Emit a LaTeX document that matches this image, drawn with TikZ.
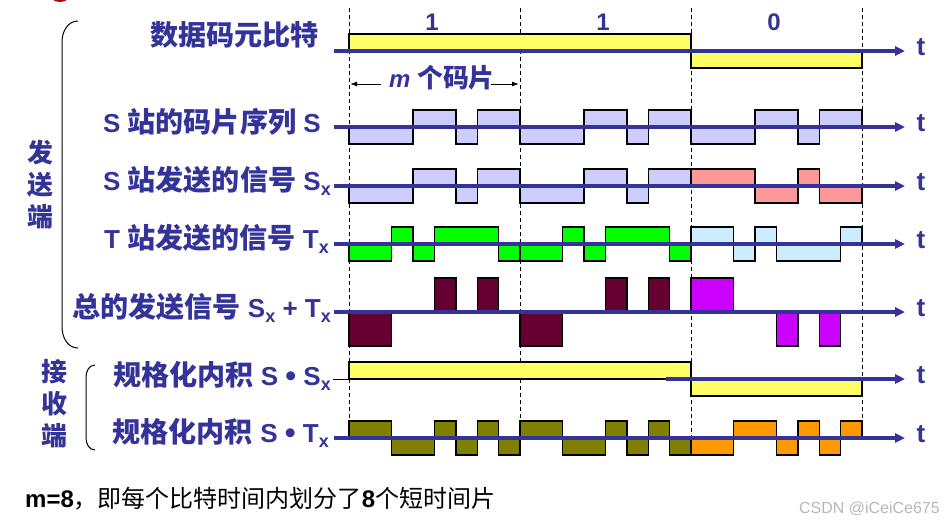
\documentclass[tikz,border=0pt]{standalone}
\usepackage{fontspec}
\setmainfont{Liberation Sans}
\newfontfamily\cjk{Noto Sans CJK SC}[Scale=1.08]
\newfontfamily\cjknote{Noto Sans CJK SC}
\usepackage{xcolor}
\usetikzlibrary{arrows.meta,positioning}

\definecolor{ink}{HTML}{333399}
\definecolor{cyel}{HTML}{FFFF66}
\definecolor{clav}{HTML}{CCCCFF}
\definecolor{cpink}{HTML}{FF9999}
\definecolor{cgreen}{HTML}{00FF00}
\definecolor{cice}{HTML}{CCECFF}
\definecolor{cwine}{HTML}{660033}
\definecolor{cmag}{HTML}{CC00FF}
\definecolor{colive}{HTML}{808000}
\definecolor{corange}{HTML}{FF9900}

\newcommand{\subx}{\raisebox{-5pt}{\fontsize{18}{18}\selectfont x}}
\newcommand{\dotop}{\raisebox{-1pt}{\fontsize{31}{31}\selectfont •}}

\begin{document}
\begin{tikzpicture}[
        x=1pt, y=-1pt,
        every node/.style={inner sep=0pt},
        chiprow/.style={shift={(349,#1)}, x=21.375pt, y=17pt},
        chipbox/.style={draw=black, line width=1.4pt},
        guide/.style ={draw=black, line width=0.9pt, dash pattern=on 4pt off 3pt},
        axis/.style  ={draw=ink, line width=3.2pt,
                       -{Triangle[length=10pt,width=9pt]}},
        tlbl/.style  ={anchor=base west, xshift=10pt, yshift=-4pt, text=ink,
                       font=\fontsize{26}{28}\selectfont\bfseries},
        lbl/.style   ={anchor=base east, text=ink,
                       font=\fontsize{26}{30}\selectfont\bfseries},
        side/.style  ={align=center, text=ink,
                       font=\fontsize{24}{32}\selectfont\bfseries\cjk},
        bitval/.style={anchor=base, text=ink,
                       font=\fontsize{24}{28}\selectfont\bfseries},
        dim/.style   ={draw=black, line width=1pt,
                       -{Latex[length=7pt,width=5pt]}},
        brace/.style ={draw=black, line width=1pt},
    ]
        \useasboundingbox (0,0) rectangle (944,523);

        % ===================== Rand oben links =====================
        \fill[red!70!black] (60,-7) ellipse (11pt and 9pt);

        % ===================== Bitgrenzen =====================
        \foreach \k in {0,1,2,3}
            \draw[guide] ({349+171*\k},8) -- ({349+171*\k},438);

        % ===================== Kurvenformen =====================
        % Datenbits 1 1 0
        \begin{scope}[chiprow=51]
            \draw[chipbox, fill=cyel] (0,0) rectangle (16,1);
            \draw[chipbox, fill=cyel] (16,0) rectangle (24,-1);
        \end{scope}

        % Chipfolge S = 00011011
        \begin{scope}[chiprow=127]
            \foreach \o in {0,8,16}
                \foreach \a/\b/\v in {0/3/-1,3/5/1,5/6/-1,6/8/1}
                    \draw[chipbox, fill=clav] ({\o+\a},0) rectangle ({\o+\b},\v);
        \end{scope}

        % Signal Sx
        \begin{scope}[chiprow=186]
            \foreach \o/\s/\c in {0/1/clav,8/1/clav,16/-1/cpink}
                \foreach \a/\b/\v in {0/3/-1,3/5/1,5/6/-1,6/8/1}
                    \draw[chipbox, fill=\c] ({\o+\a},0) rectangle ({\o+\b},{\s*\v});
        \end{scope}

        % Signal Tx, T = 00101110
        \begin{scope}[chiprow=244]
            \foreach \o/\s/\c in {0/1/cgreen,8/1/cgreen,16/-1/cice}
                \foreach \a/\b/\v in {0/2/-1,2/3/1,3/4/-1,4/7/1,7/8/-1}
                    \draw[chipbox, fill=\c] ({\o+\a},0) rectangle ({\o+\b},{\s*\v});
        \end{scope}

        % Summe Sx + Tx
        \begin{scope}[chiprow=312]
            \foreach \o/\s/\c in {0/1/cwine,8/1/cwine,16/-1/cmag}
                \foreach \a/\b/\v in {0/2/-2,4/5/2,6/7/2}
                    \draw[chipbox, fill=\c] ({\o+\a},0) rectangle ({\o+\b},{\s*\v});
        \end{scope}

        % Inneres Produkt S . Sx
        \begin{scope}[chiprow=379]
            \draw[chipbox, fill=cyel] (0,0) rectangle (16,1);
            \draw[chipbox, fill=cyel] (16,0) rectangle (24,-1);
        \end{scope}

        % Inneres Produkt S . Tx
        \begin{scope}[chiprow=438]
            \foreach \o/\s/\c in {0/1/colive,8/1/colive,16/-1/corange}
                \foreach \a/\b/\v in {0/2/1,2/4/-1,4/5/1,5/6/-1,6/7/1,7/8/-1}
                    \draw[chipbox, fill=\c] ({\o+\a},0) rectangle ({\o+\b},{\s*\v});
        \end{scope}

        % ===================== Zeitachsen =====================
        \foreach \r/\yy in {d/51,s/127,sx/186,tx/244,sum/312,stx/438} {
            \coordinate (\r0) at (334,\yy);
            \coordinate (\r1) at (905,\yy);
            \draw[axis] (\r0) -- (\r1) node[tlbl] (t\r) {t};
        }
        \coordinate (ssx0) at (666,379);
        \coordinate (ssx1) at (905,379);
        \coordinate (stub0) at (333,379);
        \coordinate (stub1) at (349,379);
        \draw[axis] (ssx0) -- (ssx1) node[tlbl] (tssx) {t};
        \draw[black, line width=1pt] (stub0) -- (stub1);

        % ===================== Bitwerte und Chipbreite =====================
        \node[bitval] (b1) at (432,30) {1};
        \node[bitval] (b2) at (603,30) {1};
        \node[bitval] (b3) at (774,30) {0};

        \node[bitval] (mchip) at (442,87) {{\itshape m} {\cjk 个码片}};
        \coordinate (g0) at (350,84);
        \coordinate (g1) at (519,84);
        \draw[dim] ([xshift=-8pt]mchip.west |- g0) -- (g0);
        \draw[dim] ([xshift=-4pt]mchip.east |- g1) -- (g1);

        % ===================== Zeilenbeschriftung =====================
        \node[lbl] (ldata) at (319,45)  {{\cjk 数据码元比特}};
        \node[lbl] (lchip) at (321,132) {S {\cjk 站的码片序列} S};
        \node[lbl] (lsx)   at (331,190) {S {\cjk 站发送的信号} S\subx};
        \node[lbl] (ltx)   at (329,248) {T {\cjk 站发送的信号} T\subx};
        \node[lbl] (lsum)  at (331,317) {{\cjk 总的发送信号} S\subx\ + T\subx};
        \node[lbl] (lssx)  at (331,385) {{\cjk 规格化内积} S \dotop\ S\subx};
        \node[lbl] (lstx)  at (329,442) {{\cjk 规格化内积} S \dotop\ T\subx};

        % ===================== Sender / Empfaenger =====================
        \node[side] (send) at (40,185) {发\\送\\端};
        \node[side] (recv) at (54,404) {接\\收\\端};
        \draw[brace] (78,21) to[out=180,in=90] (62,42) -- (62,327)
                     to[out=-90,in=180] (78,348);
        \draw[brace] (95,365) to[out=180,in=90] (86,377) -- (86,438)
                     to[out=-90,in=180] (95,450);

        % ===================== Fusszeile =====================
        \node[anchor=base west, font=\fontsize{24}{28}\selectfont] (mnote) at (25,507)
            {{\bfseries m=8}{\cjknote ，即每个比特时间内划分了}{\bfseries 8}{\cjknote 个短时间片}};
        \node[anchor=base east, text=black!28, font=\fontsize{16}{18}\selectfont]
            (wmark) at (940,513) {CSDN @iCeiCe675};
    \end{tikzpicture}
\end{document}
